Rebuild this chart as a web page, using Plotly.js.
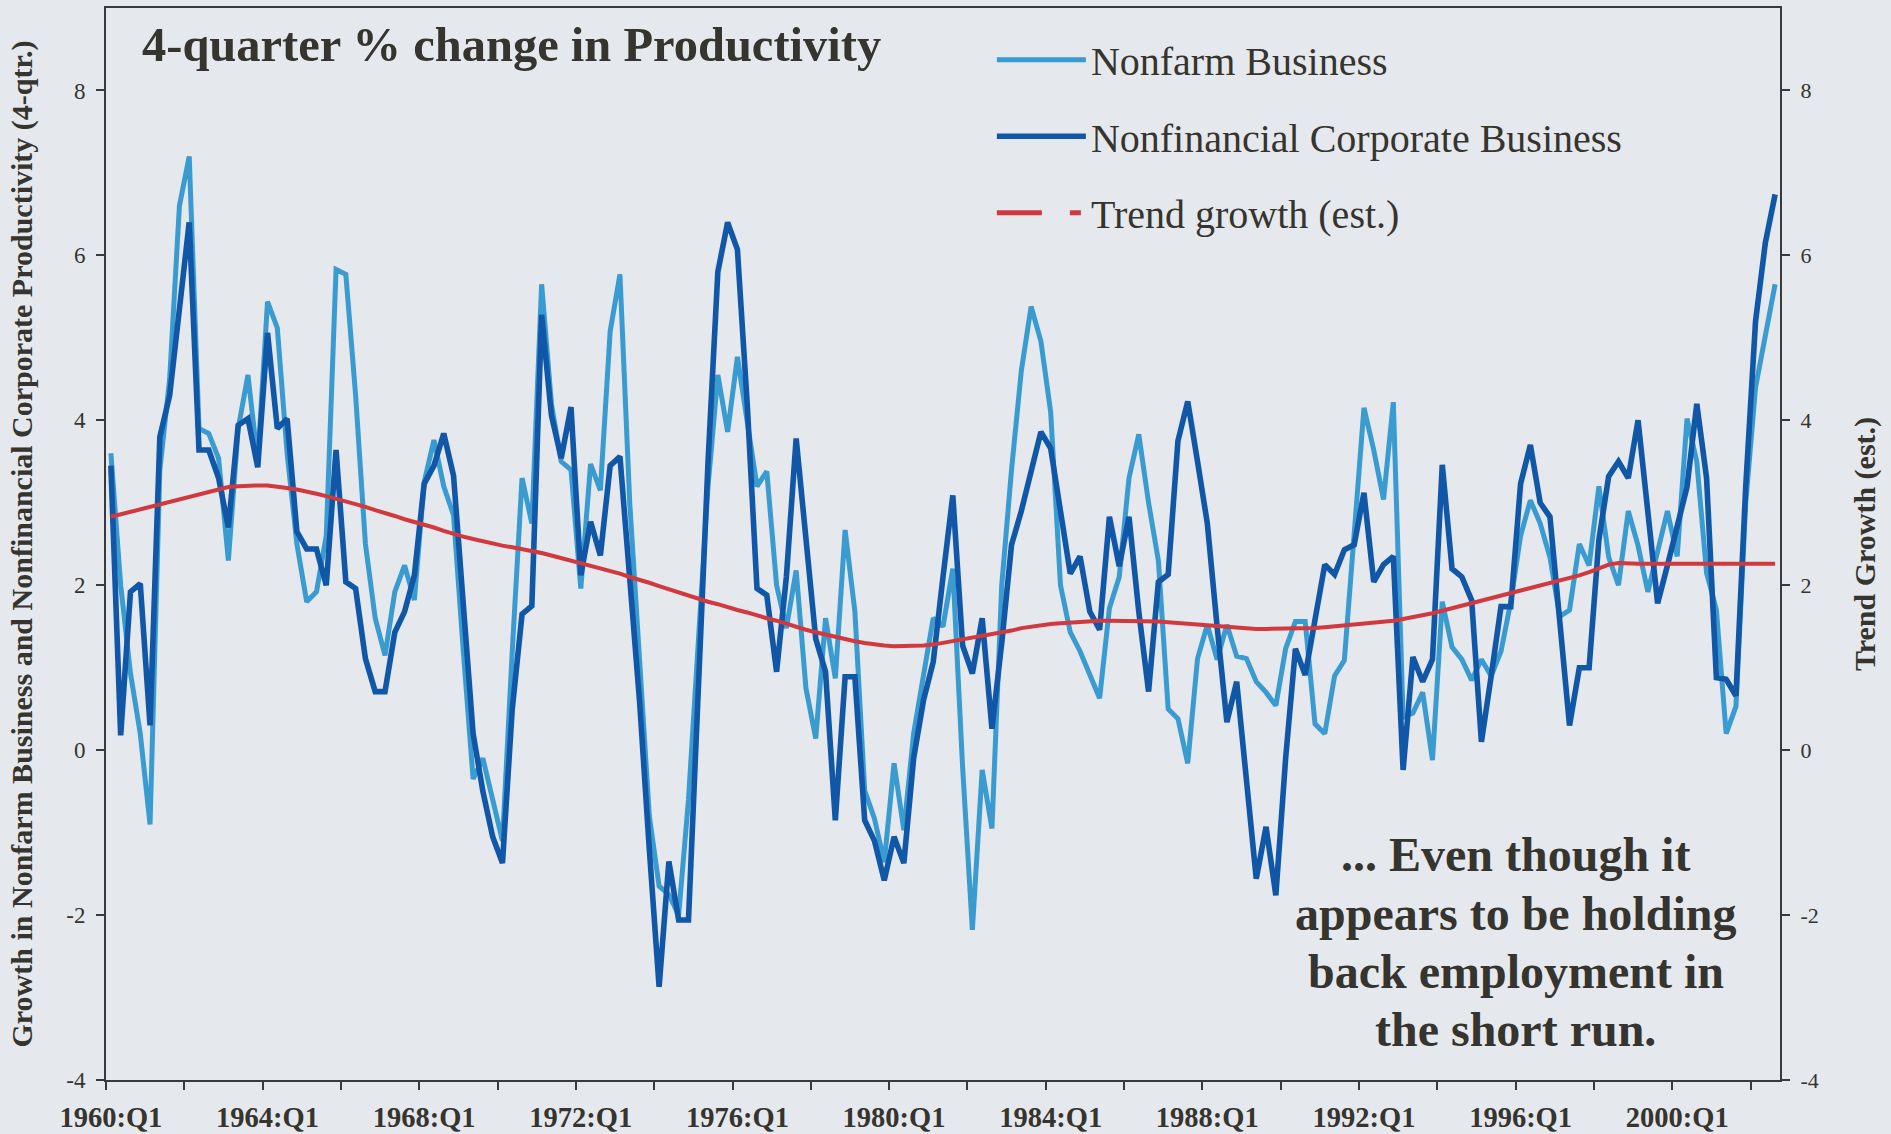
<!DOCTYPE html>
<html><head><meta charset="utf-8">
<script src="https://cdn.plot.ly/plotly-3.0.1.min.js"></script>
<style>html,body{margin:0;padding:0;background:#e5e8ed;} #chart{width:1891px;height:1134px;}</style>
</head><body><div id="chart"></div>
<script>
// Quarter categories 1960:Q1 .. 2002:Q3
const firstYear = 1960, lastYear = 2002, lastQuarter = 3;
const quarters = [];
for (let y = firstYear; y <= lastYear; y++) {
  for (let q = 1; q <= 4; q++) {
    if (y === lastYear && q > lastQuarter) break;
    quarters.push(y + ':Q' + q);
  }
}

// 4-quarter % change, Nonfarm Business productivity
const nonfarmBusiness = [
  3.6, 2.0, 0.93, 0.2, -0.9, 3.4, 4.5, 6.6, 7.2, 3.9,
  3.84, 3.54, 2.3, 3.9, 4.55, 3.5, 5.44, 5.12, 3.6, 2.5,
  1.8, 1.92, 2.6, 5.83, 5.77, 4.3, 2.5, 1.6, 1.15, 1.92,
  2.24, 1.82, 3.25, 3.76, 3.2, 2.85, 1.2, -0.35, -0.1, -0.6,
  -1.1, 1.2, 3.3, 2.75, 5.65, 4.2, 3.5, 3.4, 1.96, 3.47,
  3.15, 5.08, 5.77, 3.0, 1.0, -0.8, -1.65, -1.75, -2.0, -0.6,
  1.3, 3.2, 4.55, 3.86, 4.77, 4.0, 3.2, 3.38, 2.0, 1.48,
  2.18, 0.75, 0.14, 1.6, 0.87, 2.67, 1.68, -0.49, -0.83, -1.36,
  -0.16, -0.97, 0.2, 0.9, 1.6, 1.5, 2.2, -0.2, -2.18, -0.24,
  -0.95, 2.0, 3.4, 4.6, 5.38, 4.96, 4.1, 2.0, 1.43, 1.2,
  0.9, 0.63, 1.72, 2.1, 3.3, 3.83, 3.0, 2.3, 0.5, 0.38,
  -0.16, 1.11, 1.52, 1.1, 1.52, 1.14, 1.11, 0.83, 0.7, 0.54,
  1.23, 1.56, 1.56, 0.32, 0.2, 0.9, 1.09, 2.6, 4.15, 3.64,
  3.04, 4.22, 0.4, 0.45, 0.7, -0.12, 1.8, 1.25, 1.1, 0.85,
  1.1, 0.9, 1.2, 1.8, 2.6, 3.03, 2.75, 2.34, 1.62, 1.7,
  2.5, 2.24, 3.2, 2.34, 2.0, 2.9, 2.48, 1.92, 2.4, 2.9,
  2.35, 4.02, 3.5, 2.15, 1.7, 0.2, 0.53, 3.0, 4.4, 5.0,
  5.65
];

// 4-quarter % change, Nonfinancial Corporate Business productivity
const nonfinancialCorporate = [
  3.45, 0.18, 1.92, 2.02, 0.3, 3.8, 4.3, 5.3, 6.4, 3.64,
  3.64, 3.3, 2.7, 3.94, 4.02, 3.43, 5.06, 3.9, 4.02, 2.65,
  2.44, 2.44, 2.0, 3.64, 2.04, 1.96, 1.11, 0.71, 0.71, 1.43,
  1.68, 2.12, 3.23, 3.45, 3.84, 3.33, 1.8, 0.2, -0.5, -1.05,
  -1.37, 0.5, 1.65, 1.75, 5.28, 4.06, 3.54, 4.16, 2.12, 2.77,
  2.36, 3.45, 3.56, 2.0, 0.6, -1.2, -2.87, -1.35, -2.06, -2.06,
  0.9, 3.5, 5.8, 6.4, 6.07, 4.2, 1.96, 1.88, 0.95, 2.1,
  3.78, 2.5, 1.35, 0.95, -0.85, 0.89, 0.89, -0.85, -1.1, -1.58,
  -1.05, -1.37, -0.1, 0.6, 1.07, 2.1, 3.09, 1.27, 0.93, 1.6,
  0.26, 1.3, 2.49, 2.9, 3.4, 3.86, 3.66, 2.9, 2.14, 2.35,
  1.68, 1.46, 2.83, 2.23, 2.83, 1.68, 0.71, 2.04, 2.13, 3.75,
  4.23, 3.5, 2.75, 1.5, 0.34, 0.83, -0.4, -1.56, -0.93, -1.76,
  -0.1, 1.23, 0.91, 1.6, 2.25, 2.13, 2.43, 2.49, 3.12, 2.04,
  2.25, 2.35, -0.24, 1.13, 0.83, 1.1, 3.46, 2.2, 2.1, 1.82,
  0.1, 0.9, 1.74, 1.74, 3.23, 3.7, 3.0, 2.83, 1.5, 0.3,
  1.0, 1.0, 2.55, 3.32, 3.5, 3.3, 4.0, 2.9, 1.78, 2.24,
  2.69, 3.19, 4.2, 3.3, 0.88, 0.86, 0.66, 3.2, 5.2, 6.15,
  6.74
];

// Trend growth (est.), right axis
const trendGrowth = [
  2.83, 2.86, 2.89, 2.92, 2.95, 2.98, 3.01, 3.05, 3.08, 3.11,
  3.14, 3.17, 3.19, 3.2, 3.21, 3.21, 3.21, 3.2, 3.18, 3.16,
  3.14, 3.11, 3.08, 3.05, 3.02, 2.98, 2.95, 2.91, 2.88, 2.84,
  2.8, 2.77, 2.73, 2.7, 2.66, 2.62, 2.59, 2.56, 2.53, 2.5,
  2.48, 2.46, 2.44, 2.42, 2.39, 2.36, 2.33, 2.3, 2.27, 2.24,
  2.21, 2.17, 2.14, 2.1, 2.07, 2.03, 1.99, 1.95, 1.91, 1.87,
  1.84, 1.8, 1.77, 1.73, 1.7, 1.67, 1.63, 1.6, 1.57, 1.53,
  1.5, 1.46, 1.43, 1.4, 1.37, 1.34, 1.32, 1.3, 1.28, 1.27,
  1.26, 1.26, 1.26, 1.27, 1.28, 1.3, 1.32, 1.35, 1.37, 1.39,
  1.41, 1.43, 1.45, 1.48, 1.5, 1.52, 1.53, 1.54, 1.55, 1.56,
  1.57, 1.57, 1.57, 1.57, 1.57, 1.57, 1.56, 1.56, 1.55, 1.54,
  1.53, 1.52, 1.51, 1.5, 1.49, 1.48, 1.47, 1.47, 1.47, 1.47,
  1.47, 1.47, 1.48, 1.48, 1.49, 1.5, 1.51, 1.52, 1.53, 1.54,
  1.55, 1.57, 1.59, 1.61, 1.63, 1.66, 1.69, 1.72, 1.75, 1.78,
  1.81, 1.84, 1.87, 1.9, 1.93, 1.96, 1.99, 2.02, 2.05, 2.08,
  2.12, 2.16, 2.2, 2.25, 2.27, 2.26, 2.26, 2.26, 2.26, 2.26,
  2.26, 2.26, 2.26, 2.26, 2.26, 2.26, 2.26, 2.26, 2.26, 2.26,
  2.26
];

const xTickLabels = ['1960:Q1','1964:Q1','1968:Q1','1972:Q1','1976:Q1','1980:Q1',
                     '1984:Q1','1988:Q1','1992:Q1','1996:Q1','2000:Q1'];
const xMinorLabels = ['1960:Q1','1962:Q1','1964:Q1','1966:Q1','1968:Q1','1970:Q1','1972:Q1',
                      '1974:Q1','1976:Q1','1978:Q1','1980:Q1','1982:Q1','1984:Q1','1986:Q1',
                      '1988:Q1','1990:Q1','1992:Q1','1994:Q1','1996:Q1','1998:Q1','2000:Q1','2002:Q1'];
const yTickValues = [-4, -2, 0, 2, 4, 6, 8];
const yTickLabels = ['-4', '-2', '0', '2', '4', '6', '8'];

const seriesNames = ['Nonfarm Business', 'Nonfinancial Corporate Business', 'Trend growth (est.)'];
const leftTitle = 'Growth in Nonfarm Business and Nonfinancial Corporate Productivity (4-qtr.)';
const rightTitle = 'Trend Growth (est.)';
const chartTitle = '4-quarter % change in Productivity';
const noteLines = ['... Even though it', 'appears to be holding', 'back employment in', 'the short run.'];

// ---- build ----
const xIdx = quarters.map((_, i) => i);
const tickVals = xTickLabels.map(l => quarters.indexOf(l));
const minorVals = xMinorLabels.map(l => quarters.indexOf(l) - 0.5);

const SERIF = 'Liberation Serif, Times New Roman, serif';
const TXT = '#35342e';
const FRAME = '#3a3a3a';
const LIGHT = '#3a9bd0', DARK = '#1157a8', RED = '#d0393e';

const traces = [
  { x: xIdx, y: nonfarmBusiness, text: quarters, type: 'scatter', mode: 'lines',
    name: seriesNames[0], legendgroup: 'a',
    line: { color: LIGHT, width: 5 },
    hovertemplate: '%{text}: %{y}<extra>' + seriesNames[0] + '</extra>' },
  { x: xIdx, y: nonfinancialCorporate, text: quarters, type: 'scatter', mode: 'lines',
    name: seriesNames[1], legendgroup: 'b',
    line: { color: DARK, width: 5.6 },
    hovertemplate: '%{text}: %{y}<extra>' + seriesNames[1] + '</extra>' },
  { x: xIdx, y: trendGrowth, text: quarters, type: 'scatter', mode: 'lines', yaxis: 'y2',
    name: seriesNames[2], legendgroup: 'c', showlegend: false,
    line: { color: RED, width: 4 },
    hovertemplate: '%{text}: %{y}<extra>' + seriesNames[2] + '</extra>' },
  { x: [null], y: [null], type: 'scatter', mode: 'lines', yaxis: 'y2',
    name: seriesNames[2], legendgroup: 'c', showlegend: true, hoverinfo: 'skip',
    line: { color: RED, width: 5, dash: '45px,28px,11px,300px' } }
];

// note text: one annotation per line (plot-paper coordinates of line centres)
const noteLineY = [854, 913, 971, 1029];
const plotTop = 8, plotH = 1072;
const annotations = noteLines.map((t, k) => ({
  text: t, xref: 'paper', yref: 'paper', x: 0.842, y: 1 - (noteLineY[k] - plotTop) / plotH,
  xanchor: 'center', yanchor: 'middle', showarrow: false, align: 'center',
  font: { family: SERIF, size: 48, weight: 'bold', color: TXT }
}));

const layout = {
  width: 1891, height: 1134,
  paper_bgcolor: '#e5e8ed', plot_bgcolor: '#e5e8ed',
  margin: { l: 106, r: 111, t: plotTop, b: 54, pad: 0 },
  font: { family: SERIF, color: TXT },
  title: { text: chartTitle, font: { family: SERIF, size: 48.5, weight: 'bold', color: TXT },
           x: 142 / 1891, xanchor: 'left', xref: 'container',
           y: 1 - 44.5 / 1134, yanchor: 'middle', yref: 'container' },
  showlegend: true,
  legend: { x: 0.5292, xanchor: 'left', y: 0.982, yanchor: 'top',
            bgcolor: 'rgba(0,0,0,0)', borderwidth: 0,
            font: { family: SERIF, size: 40, color: TXT },
            itemwidth: 89, tracegroupgap: 21.5, traceorder: 'grouped' },
  xaxis: {
    range: [-0.5, 170.5], tickmode: 'array', tickvals: tickVals, ticktext: xTickLabels,
    ticks: '', showgrid: false, zeroline: false,
    showline: true, mirror: true, linecolor: FRAME, linewidth: 2,
    tickfont: { family: SERIF, size: 28.5, weight: 'bold', color: TXT },
    ticklabelstandoff: 11,
    minor: { tickmode: 'array', tickvals: minorVals, ticks: 'outside', ticklen: 8,
             tickwidth: 1.5, tickcolor: FRAME, showgrid: false }
  },
  yaxis: {
    range: [-4, 9], tickmode: 'array', tickvals: yTickValues, ticktext: yTickLabels,
    ticks: 'outside', ticklen: 8, tickwidth: 1.5, tickcolor: FRAME,
    showgrid: false, zeroline: false, showline: true, linecolor: FRAME, linewidth: 2,
    tickfont: { family: SERIF, size: 23, color: TXT },
    ticklabelstandoff: 6,
    title: { text: leftTitle, standoff: 25,
             font: { family: SERIF, size: 30, weight: 'bold', color: TXT } }
  },
  yaxis2: {
    overlaying: 'y', side: 'right',
    range: [-4, 9], tickmode: 'array', tickvals: yTickValues, ticktext: yTickLabels,
    ticks: 'outside', ticklen: 8, tickwidth: 1.5, tickcolor: FRAME,
    showgrid: false, zeroline: false, showline: true, linecolor: FRAME, linewidth: 2,
    tickfont: { family: SERIF, size: 22, color: TXT },
    ticklabelstandoff: 6,
    title: { text: rightTitle, standoff: 36,
             font: { family: SERIF, size: 30, weight: 'bold', color: TXT } }
  },
  annotations: annotations
};

Plotly.newPlot('chart', traces, layout, { displayModeBar: false, responsive: false });
</script>
</body></html>
